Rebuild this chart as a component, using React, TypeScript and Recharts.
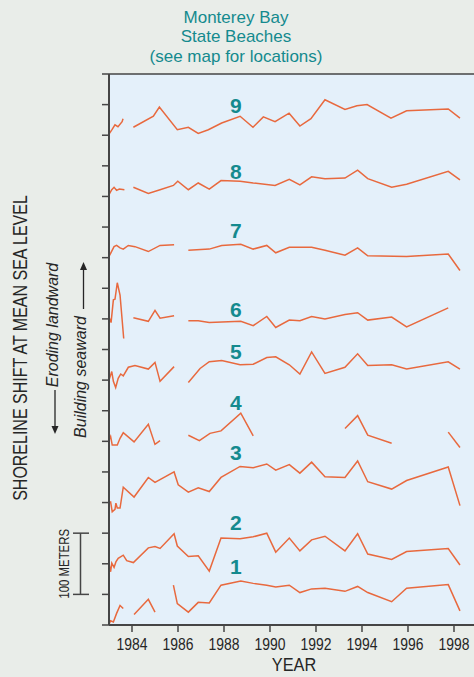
import {
  LineChart,
  Line,
  XAxis,
  YAxis,
  CartesianGrid,
  ReferenceLine,
  ReferenceDot,
} from "recharts";

type Pt = [number, number];
type Segment = Pt[];

// survey year, shoreline shift in meters (segments split at data gaps)
const BEACH_1: Segment[] = [
  [[1983.0, 1], [1983.07, 7], [1983.19, 5], [1983.33, 19], [1983.48, 32], [1983.62, 27]],
  [[1984.09, 17], [1984.71, 42], [1985.0, 21]],
  [
    [1985.8, 65], [1985.97, 35], [1986.45, 21], [1986.88, 37], [1987.36, 36], [1987.87, 65],
    [1988.73, 72], [1989.27, 68], [1989.86, 65], [1990.25, 62], [1990.84, 65], [1991.3, 53],
    [1991.81, 59], [1992.39, 60], [1993.26, 55], [1993.81, 63], [1994.25, 53], [1995.29, 38],
    [1995.94, 60], [1997.75, 66], [1998.26, 23],
  ],
];

const BEACH_2: Segment[] = [
  [
    [1983.0, 0], [1983.07, -13], [1983.12, 1], [1983.22, -6], [1983.3, 3], [1983.4, 9],
    [1983.62, 14], [1983.77, 5], [1984.06, 2], [1984.71, 26], [1985.0, 28], [1985.22, 25],
    [1985.83, 49], [1985.97, 29], [1986.45, 12], [1986.88, 13], [1987.36, -12], [1987.87, 42],
    [1988.7, 41], [1989.27, 44], [1989.86, 50], [1990.25, 19], [1990.84, 42], [1991.3, 21],
    [1991.81, 39], [1992.39, 45], [1993.26, 21], [1993.81, 49], [1994.25, 16], [1995.29, 7],
    [1995.94, 20], [1997.75, 25], [1998.26, -2],
  ],
];

const BEACH_3: Segment[] = [
  [
    [1983.0, 0], [1983.07, 1], [1983.14, -15], [1983.26, -11], [1983.3, -1], [1983.36, -9],
    [1983.48, -9], [1983.62, 25], [1984.09, 9], [1984.71, 41], [1985.0, 33], [1985.83, 50],
    [1986.01, 29], [1986.45, 17], [1986.88, 24], [1987.36, 18], [1987.87, 41], [1988.7, 59],
    [1989.27, 57], [1989.86, 63], [1990.25, 53], [1990.84, 62], [1991.3, 48], [1991.81, 66],
    [1992.39, 42], [1993.26, 41], [1993.81, 68], [1994.25, 34], [1995.29, 22], [1995.94, 36],
    [1997.75, 58], [1998.26, -5],
  ],
];

const BEACH_4: Segment[] = [
  [
    [1983.0, 2], [1983.07, 8], [1983.14, -6], [1983.36, -6], [1983.48, 5], [1983.62, 14],
    [1984.09, -1], [1984.71, 28], [1985.0, -5], [1985.22, 1],
  ],
  [[1986.45, 10], [1986.93, 1], [1987.39, 13], [1987.87, 17], [1988.73, 46], [1989.27, 9]],
  [[1993.26, 21], [1993.81, 42], [1994.25, 10], [1995.29, -3]],
  [[1997.75, 15], [1998.26, -10]],
];

const BEACH_5: Segment[] = [
  [
    [1983.0, 0], [1983.12, 14], [1983.19, -2], [1983.29, -12], [1983.4, 3], [1983.51, 10],
    [1983.62, 7], [1983.84, 21], [1984.13, 24], [1984.71, 18], [1985.0, 29], [1985.22, -2],
    [1985.83, 22],
  ],
  [
    [1986.45, -4], [1986.96, 19], [1987.36, 30], [1987.9, 32], [1988.7, 25], [1989.27, 26],
    [1989.86, 37], [1990.25, 38], [1990.84, 25], [1991.3, 10], [1991.81, 46], [1992.39, 11],
    [1993.26, 21], [1993.81, 43], [1994.25, 24], [1995.29, 25], [1995.94, 18], [1997.75, 30],
    [1998.26, 18],
  ],
];

const BEACH_6: Segment[] = [
  [[1983.0, 3], [1983.09, -6], [1983.19, 31], [1983.26, 32], [1983.36, 59], [1983.48, 39], [1983.64, -32]],
  [[1984.06, 2], [1984.71, -4], [1985.0, 14], [1985.22, 1], [1985.83, 5]],
  [
    [1986.45, -3], [1986.88, -3], [1987.36, -6], [1988.73, -4], [1989.27, -11], [1989.86, 4],
    [1990.25, -14], [1990.84, -2], [1991.3, -3], [1991.81, 4], [1992.39, 0], [1993.26, 7],
    [1993.81, 10], [1994.25, -2], [1995.29, 3], [1995.94, -13], [1997.75, 18],
  ],
];

const BEACH_7: Segment[] = [
  [
    [1983.0, 2], [1983.07, 7], [1983.22, 18], [1983.33, 20], [1983.48, 16], [1983.62, 14],
    [1983.84, 20], [1984.13, 18], [1984.71, 10], [1985.22, 20], [1985.83, 21],
  ],
  [
    [1986.45, 12], [1987.36, 14], [1987.9, 20], [1988.73, 22], [1989.27, 14], [1989.86, 20],
    [1990.25, 8], [1990.84, 17], [1991.81, 17], [1992.39, 12], [1993.26, 4], [1993.81, 16],
    [1994.25, 3], [1995.94, 2], [1997.75, 6], [1998.26, -21],
  ],
];

const BEACH_8: Segment[] = [
  [[1983.0, 3], [1983.12, 11], [1983.22, 15], [1983.33, 10], [1983.45, 12], [1983.67, 11]],
  [
    [1984.06, 15], [1984.71, 5], [1985.22, 11], [1985.8, 18], [1985.99, 25], [1986.45, 11],
    [1986.88, 22], [1987.36, 12], [1987.87, 26], [1988.7, 25], [1989.27, 22], [1990.22, 18],
    [1990.84, 28], [1991.3, 19], [1991.81, 32], [1992.39, 29], [1993.26, 30], [1993.81, 43],
    [1994.25, 29], [1995.29, 15], [1995.94, 20], [1997.75, 41], [1998.26, 27],
  ],
];

const BEACH_9: Segment[] = [
  [[1983.0, 2], [1983.13, 9], [1983.26, 17], [1983.39, 14], [1983.57, 22], [1983.61, 27]],
  [
    [1984.06, 13], [1984.93, 31], [1985.19, 46], [1985.97, 9], [1986.45, 13], [1986.88, 3],
    [1987.32, 9], [1987.9, 20], [1988.7, 31], [1989.26, 13], [1989.71, 30], [1990.22, 22],
    [1990.83, 36], [1991.3, 15], [1991.78, 27], [1992.39, 58], [1993.26, 42], [1993.78, 48],
    [1994.22, 50], [1995.26, 28], [1995.94, 40], [1997.75, 43], [1998.26, 28],
  ],
];

const BEACHES = [BEACH_1, BEACH_2, BEACH_3, BEACH_4, BEACH_5, BEACH_6, BEACH_7, BEACH_8, BEACH_9];
const BEACH_NAMES = ["1", "2", "3", "4", "5", "6", "7", "8", "9"];
// each profile is stacked 100 m above the previous one
const BEACH_OFFSETS = [0, 100, 200, 300, 400, 500, 600, 700, 800];
const NAME_LIFT = [96, 68, 81, 63, 46, 16, 45, 41, 48];
const NAME_YEAR = 1988.52;

const YEAR_TICKS = [1984, 1986, 1988, 1990, 1992, 1994, 1996, 1998];
const Y_TICKS = Array.from({ length: 19 }, (_, i) => i * 50);
const Y_MAX = 900;

const TITLE_LINES = ["Monterey Bay", "State Beaches", "(see map for locations)"];

const W = 474;
const H = 677;
const PLOT_TOP = 74;
const PLOT_BOTTOM = 625;
const PLOT_LEFT = 109;
const TICK = 7;

const ORANGE = "#E8693E";
const TEAL = "#148A8E";
const AXIS = "#454545";
const INK = "#262626";
const FONT = "'Liberation Sans', Arial, sans-serif";
const NARROW = 0.82; // condensed face, faked by squeezing Liberation Sans

const yPx = (m: number) => PLOT_TOP + ((Y_MAX - m) / Y_MAX) * (PLOT_BOTTOM - PLOT_TOP);

function YearTick({ x, y, payload }: any) {
  return (
    <text
      transform={`translate(${x},${y + 9}) scale(${NARROW},1)`}
      textAnchor="middle"
      dominantBaseline="central"
      fill={INK}
      fontSize={17}
      fontFamily={FONT}
    >
      {payload.value}
    </text>
  );
}

function Overlay() {
  const barTop = yPx(150);
  const barBottom = yPx(50);
  return (
    <svg
      width={W}
      height={H}
      style={{ position: "absolute", left: 0, top: 0, pointerEvents: "none" }}
    >
      {TITLE_LINES.map((t, i) => (
        <text
          key={t}
          x={236}
          y={17 + i * 19.5}
          textAnchor="middle"
          dominantBaseline="central"
          fill={TEAL}
          fontSize={17}
          fontFamily={FONT}
        >
          {t}
        </text>
      ))}

      <text
        transform={`translate(294,665) scale(0.86,1)`}
        textAnchor="middle"
        dominantBaseline="central"
        fill={INK}
        fontSize={19}
        fontFamily={FONT}
      >
        YEAR
      </text>

      <text
        transform={`translate(20,348) rotate(-90) scale(${NARROW},1)`}
        textAnchor="middle"
        dominantBaseline="central"
        fill={INK}
        fontSize={19.5}
        fontFamily={FONT}
      >
        SHORELINE SHIFT AT MEAN SEA LEVEL
      </text>

      <text
        transform="translate(52,325) rotate(-90)"
        textAnchor="middle"
        dominantBaseline="central"
        fill={INK}
        fontSize={16}
        fontStyle="italic"
        fontFamily={FONT}
      >
        Eroding landward
      </text>
      <line x1={55} y1={390} x2={55} y2={428} stroke={INK} strokeWidth={1.3} />
      <polygon points="51.5,426 58.5,426 55,434" fill={INK} />

      <text
        transform="translate(80,377) rotate(-90)"
        textAnchor="middle"
        dominantBaseline="central"
        fill={INK}
        fontSize={16}
        fontStyle="italic"
        fontFamily={FONT}
      >
        Building seaward
      </text>
      <line x1={83.5} y1={309} x2={83.5} y2={269} stroke={INK} strokeWidth={1.3} />
      <polygon points="80,270 87,270 83.5,262" fill={INK} />

      <text
        transform={`translate(63.5,${(barTop + barBottom) / 2}) rotate(-90) scale(0.76,1)`}
        textAnchor="middle"
        dominantBaseline="central"
        fill={INK}
        fontSize={15}
        fontFamily={FONT}
      >
        100 METERS
      </text>
      <line x1={80.5} y1={barTop} x2={80.5} y2={barBottom} stroke={AXIS} strokeWidth={1.5} />
      <line x1={73} y1={barTop} x2={89} y2={barTop} stroke={AXIS} strokeWidth={1.5} />
      <line x1={73} y1={barBottom} x2={89} y2={barBottom} stroke={AXIS} strokeWidth={1.5} />
    </svg>
  );
}

export default function App() {
  return (
    <div
      style={{
        position: "absolute",
        left: 0,
        top: 0,
        width: W,
        height: H,
        background: "#E9EDE9",
        overflow: "hidden",
      }}
    >
      <LineChart
        width={W}
        height={H}
        margin={{ top: PLOT_TOP, right: 0, bottom: 0, left: PLOT_LEFT - TICK }}
      >
        <CartesianGrid fill="#E4F0FA" stroke="none" horizontal={false} vertical={false} />
        <XAxis
          dataKey="year"
          type="number"
          domain={[1983, 1998.87]}
          ticks={YEAR_TICKS}
          interval={0}
          allowDataOverflow
          height={H - PLOT_BOTTOM}
          tickSize={TICK}
          tickMargin={3}
          stroke={AXIS}
          axisLine={{ stroke: AXIS, strokeWidth: 2 }}
          tickLine={{ stroke: AXIS, strokeWidth: 1.5 }}
          tick={<YearTick />}
        />
        <YAxis
          type="number"
          domain={[0, Y_MAX]}
          ticks={Y_TICKS}
          interval={0}
          width={TICK}
          tickSize={TICK}
          stroke={AXIS}
          tick={() => <g />}
          axisLine={{ stroke: AXIS, strokeWidth: 2 }}
          tickLine={{ stroke: AXIS, strokeWidth: 1.5 }}
        />
        <ReferenceLine y={Y_MAX} stroke={AXIS} strokeWidth={1.5} />
        {BEACHES.map((segs, b) =>
          segs.map((seg, s) => (
            <Line
              key={`${b}-${s}`}
              data={seg.map(([year, shift]) => ({ year, v: BEACH_OFFSETS[b] + shift }))}
              dataKey="v"
              type="linear"
              stroke={ORANGE}
              strokeWidth={1.5}
              dot={false}
              activeDot={false}
              isAnimationActive={false}
            />
          ))
        )}
        {BEACH_NAMES.map((name, b) => (
          <ReferenceDot
            key={name}
            x={NAME_YEAR}
            y={BEACH_OFFSETS[b] + NAME_LIFT[b]}
            r={0}
            fill="none"
            stroke="none"
            label={{
              value: name,
              position: "center",
              fill: TEAL,
              fontSize: 21,
              fontWeight: 700,
              fontFamily: FONT,
            }}
          />
        ))}
      </LineChart>
      <Overlay />
    </div>
  );
}
